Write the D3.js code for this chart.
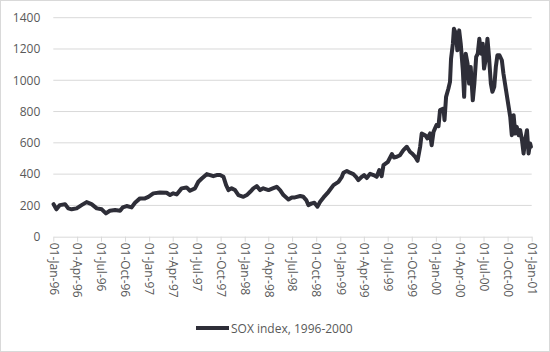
<!DOCTYPE html>
<html>
<head>
<meta charset="utf-8">
<script src="https://cdn.jsdelivr.net/npm/d3@7/dist/d3.min.js"></script>
<style>
  html, body { margin: 0; padding: 0; background: #fff; }
  svg { display: block; font-family: "Open Sans", sans-serif; }
</style>
</head>
<body>
<svg id="chart" width="550" height="352"></svg>
<script>
// ---- data ----
const seriesName = "SOX index, 1996-2000";
const dates = [
  "1996-01-02","1996-01-13","1996-01-26","1996-02-15","1996-02-27","1996-03-11","1996-03-30","1996-04-18","1996-05-07","1996-05-26",
  "1996-06-15","1996-07-04","1996-07-20","1996-08-04","1996-08-24","1996-09-12","1996-09-22","1996-10-07","1996-10-26","1996-11-08",
  "1996-11-27","1996-12-16","1996-12-29",
  "1997-01-17","1997-02-11","1997-03-09","1997-03-22","1997-04-03","1997-04-16","1997-05-05","1997-05-24","1997-06-06","1997-06-25",
  "1997-07-08","1997-07-21","1997-08-09","1997-08-22","1997-09-03","1997-09-16","1997-09-29","1997-10-12","1997-10-22","1997-10-31",
  "1997-11-12","1997-11-25","1997-12-08","1997-12-27",
  "1998-01-09","1998-01-22","1998-02-03","1998-02-16","1998-03-01","1998-03-13","1998-04-02","1998-04-18","1998-05-03","1998-05-16",
  "1998-05-29","1998-06-17","1998-06-30","1998-07-12","1998-08-01","1998-08-13","1998-08-24","1998-09-01","1998-09-14","1998-09-24",
  "1998-10-06","1998-10-16","1998-10-29","1998-11-17","1998-12-06","1998-12-25",
  "1999-01-07","1999-01-13","1999-01-26","1999-02-07","1999-02-20","1999-03-02","1999-03-11","1999-03-24","1999-04-02","1999-04-12",
  "1999-04-25","1999-05-08","1999-05-20","1999-05-30","1999-06-08","1999-06-15","1999-07-02","1999-07-17","1999-07-25","1999-08-05",
  "1999-08-17","1999-08-30","1999-09-12","1999-09-24","1999-10-02","1999-10-14","1999-10-23","1999-11-02","1999-11-08","1999-11-21",
  "1999-11-30","1999-12-10","1999-12-16","1999-12-23",
  "2000-01-03","2000-01-11","2000-01-17","2000-01-30","2000-02-03","2000-02-09","2000-02-18","2000-02-24","2000-02-28","2000-03-06",
  "2000-03-10","2000-03-18","2000-03-23","2000-03-30","2000-04-05","2000-04-13","2000-04-18","2000-04-24","2000-05-01","2000-05-07",
  "2000-05-13","2000-05-21","2000-05-27","2000-06-03","2000-06-09","2000-06-15","2000-06-22","2000-06-28","2000-07-03","2000-07-10",
  "2000-07-16","2000-07-22","2000-07-29","2000-08-04","2000-08-11","2000-08-17","2000-08-23","2000-08-31","2000-09-09","2000-09-15",
  "2000-09-25","2000-10-03","2000-10-11","2000-10-17","2000-10-24","2000-10-30","2000-11-05","2000-11-12","2000-11-18","2000-11-25",
  "2000-12-01","2000-12-07","2000-12-14","2000-12-20","2000-12-26","2000-12-29"
];
const values = [
  208,175,202,208,181,175,181,202,221,208,
  181,175,149,166,170,166,187,196,187,217,
  245,245,255,
  277,283,281,266,277,270,309,315,294,309,
  351,372,400,394,387,394,394,383,330,298,
  309,298,266,255,
  266,287,309,323,298,309,298,309,319,298,
  266,238,251,251,260,255,234,202,213,217,
  192,223,251,287,330,351,
  383,409,420,409,400,383,362,383,394,375,
  402,394,383,426,387,458,479,528,506,511,
  521,553,575,543,532,511,485,575,660,649,
  628,660,585,670,
  713,706,809,819,745,894,947,990,1138,1234,
  1330,1298,1192,1319,1234,1064,894,1170,1106,979,
  1085,872,979,1149,1170,1266,1170,1234,1075,1138,
  1266,1149,979,926,958,1085,1160,1160,1128,1043,
  936,851,766,649,777,660,702,649,681,617,
  532,617,681,532,596,575
];
const yTicks = [0, 200, 400, 600, 800, 1000, 1200, 1400];
const xTickDates = [
  "1996-01-01","1996-04-01","1996-07-01","1996-10-01","1997-01-01","1997-04-01","1997-07-01","1997-10-01",
  "1998-01-01","1998-04-01","1998-07-01","1998-10-01","1999-01-01","1999-04-01","1999-07-01","1999-10-01",
  "2000-01-01","2000-04-01","2000-07-01","2000-10-01","2001-01-01"
];

// ---- drawing ----
(function () {
const parse = d3.utcParse("%Y-%m-%d");
const fmt = d3.utcFormat("%d-%b-%y");
const data = dates.map((d, i) => ({ date: parse(d), value: values[i] }));

const svg = d3.select("#chart");
const mLeft = 53.3, mRight = 531.7, mTop = 17.7, mBottom = 236.7;

svg.append("rect").attr("x", 0.5).attr("y", 0.5).attr("width", 549).attr("height", 351)
  .attr("fill", "#fff").attr("stroke", "#d9d9d9");

const x = d3.scaleUtc().domain([parse("1996-01-01"), parse("2001-01-01")]).range([mLeft, mRight]);
const y = d3.scaleLinear().domain([0, 1400]).range([mBottom, mTop]);

// gridlines
svg.append("g").selectAll("line").data(yTicks.filter(t => t > 0)).join("line")
  .attr("x1", mLeft).attr("x2", mRight)
  .attr("y1", d => y(d)).attr("y2", d => y(d))
  .attr("stroke", "#d9d9d9").attr("stroke-width", 1);

// y axis labels
const yAxis = svg.append("g").attr("transform", `translate(${mLeft},0)`)
  .call(d3.axisLeft(y).tickValues(yTicks).tickFormat(d3.format("d")).tickSize(0).tickPadding(13));
yAxis.select(".domain").remove();
yAxis.selectAll("text").attr("fill", "#595959").attr("font-size", 12)
  .attr("font-family", "'Open Sans', sans-serif");

// x axis
const xAxis = svg.append("g").attr("transform", `translate(0,${mBottom})`)
  .call(d3.axisBottom(x).tickValues(xTickDates.map(parse)).tickFormat(fmt).tickSize(5).tickSizeOuter(0));
xAxis.select(".domain").attr("stroke", "#d9d9d9");
xAxis.selectAll(".tick line").attr("stroke", "#d9d9d9");
xAxis.selectAll("text")
  .attr("fill", "#595959").attr("font-size", 12).attr("font-family", "'Open Sans', sans-serif")
  .attr("text-anchor", "start").attr("dy", "0.35em")
  .attr("transform", "translate(0,6) rotate(90)")
  .attr("x", 0).attr("y", 0);

// line
const line = d3.line().x(d => x(d.date)).y(d => y(d.value));
svg.append("path").datum(data)
  .attr("fill", "none").attr("stroke", "#2e2e38").attr("stroke-width", 4)
  .attr("stroke-linejoin", "round").attr("stroke-linecap", "round")
  .attr("d", line);

// legend
const lg = svg.append("g");
lg.append("line").attr("x1", 196).attr("x2", 229).attr("y1", 328).attr("y2", 328)
  .attr("stroke", "#2e2e38").attr("stroke-width", 4);
lg.append("text").attr("x", 231).attr("y", 332.5).text(seriesName)
  .attr("fill", "#595959").attr("font-size", 12).attr("font-family", "'Open Sans', sans-serif");
})();
</script>
</body>
</html>
